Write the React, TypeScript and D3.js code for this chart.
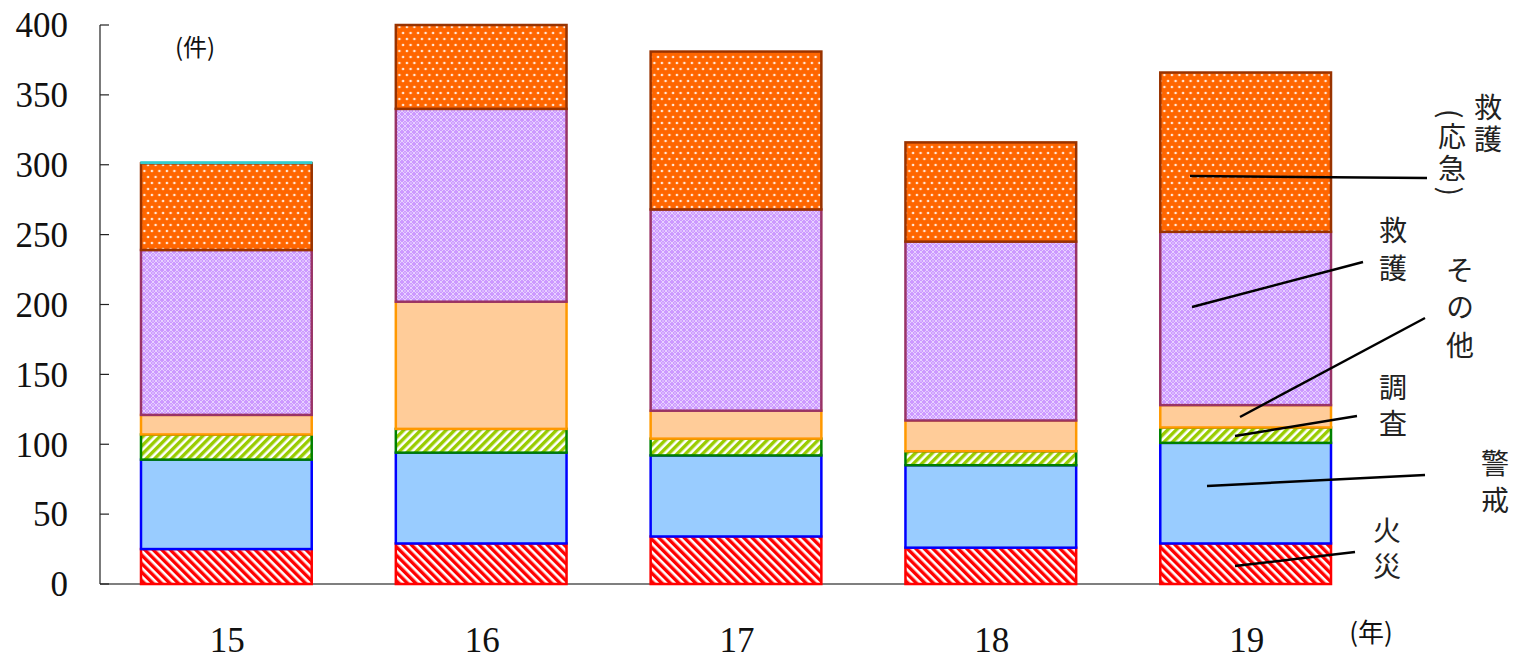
import React, { useEffect, useRef } from 'react';
import * as d3 from 'd3';

// years (平成)
const years = ['15', '16', '17', '18', '19'];

// 件数 per category, bottom to top
const kasai = [25, 29, 34, 26, 29];        // 火災
const keikai = [64, 65, 58, 59, 72];       // 警戒
const chousa = [18, 17, 12, 10, 11];       // 調査
const sonota = [14, 91, 20, 22, 16];       // その他
const kyugo = [118, 138, 144, 128, 124];   // 救護
const oukyu = [62, 60, 113, 71, 114];      // 救護（応急）
const extra = [1, 0, 0, 0, 0];

const yTicks = [0, 50, 100, 150, 200, 250, 300, 350, 400];

const series = [
  { key: 'kasai', values: kasai, fill: 'url(#p-red)', stroke: '#FF0000' },
  { key: 'keikai', values: keikai, fill: '#99CCFF', stroke: '#0000FF' },
  { key: 'chousa', values: chousa, fill: 'url(#p-green)', stroke: '#008000' },
  { key: 'sonota', values: sonota, fill: '#FFCC99', stroke: '#FF9900' },
  { key: 'kyugo', values: kyugo, fill: 'url(#p-lav)', stroke: '#993366' },
  { key: 'oukyu', values: oukyu, fill: 'url(#p-dots)', stroke: '#993300' },
  { key: 'extra', values: extra, fill: '#33CCCC', stroke: '#33CCCC' },
];

// annotation labels (vertical text) and leader lines
const labels = [
  { text: '救護', x: 1488, y: 93, ls: 4 },
  { text: '(応急)', x: 1452, y: 109, ls: 4 },
  { text: '救護', x: 1393, y: 216, ls: 10 },
  { text: 'その他', x: 1460, y: 256, ls: 9.5 },
  { text: '調査', x: 1393, y: 373, ls: 8 },
  { text: '警戒', x: 1495, y: 449, ls: 9 },
  { text: '火災', x: 1387, y: 516, ls: 8 },
];
const leaders = [
  [1190, 176, 1427, 178],
  [1192, 307, 1363, 262],
  [1240, 417, 1425, 318],
  [1235, 436, 1357, 416],
  [1207, 486, 1425, 475],
  [1235, 566, 1355, 552],
];

const W = 1519;
const H = 659;
const serif = '"Liberation Serif", "Times New Roman", serif';
const jp = '"Noto Sans CJK JP", sans-serif';

export default function App() {
  const svgRef = useRef<SVGSVGElement>(null);

  useEffect(() => {
    if (!svgRef.current) return;
    const svg = d3.select(svgRef.current);
    svg.selectAll('*').remove();

    const x = d3.scaleBand<string>().domain(years).range([141, 1331]).paddingInner(0.33).paddingOuter(0);
    const y = d3.scaleLinear().domain([0, 400]).range([584, 25]);

    const defs = svg.append('defs');

    // red diagonal stripes
    const pr = defs.append('pattern').attr('id', 'p-red').attr('patternUnits', 'userSpaceOnUse')
      .attr('width', 6).attr('height', 6).attr('patternTransform', 'rotate(-45)');
    pr.append('rect').attr('width', 6).attr('height', 6).attr('fill', '#fff');
    pr.append('rect').attr('width', 3.4).attr('height', 6).attr('fill', '#FF0000');

    // green diagonal stripes
    const pg = defs.append('pattern').attr('id', 'p-green').attr('patternUnits', 'userSpaceOnUse')
      .attr('width', 6).attr('height', 6).attr('patternTransform', 'rotate(45)');
    pg.append('rect').attr('width', 6).attr('height', 6).attr('fill', '#fff');
    pg.append('rect').attr('width', 3.4).attr('height', 6).attr('fill', '#99CC00');

    // lavender lattice
    const pl = defs.append('pattern').attr('id', 'p-lav').attr('patternUnits', 'userSpaceOnUse')
      .attr('width', 6).attr('height', 6);
    pl.append('rect').attr('width', 6).attr('height', 6).attr('fill', '#CC99FF');
    pl.append('path').attr('d', 'M0,3 L3,0 L6,3 L3,6 Z').attr('fill', 'none')
      .attr('stroke', '#fff').attr('stroke-opacity', 0.55).attr('stroke-width', 1);
    pl.append('circle').attr('cx', 3).attr('cy', 3).attr('r', 0.8).attr('fill', '#fff').attr('fill-opacity', 0.6);

    // orange dots
    const pd = defs.append('pattern').attr('id', 'p-dots').attr('patternUnits', 'userSpaceOnUse')
      .attr('width', 7.5).attr('height', 12);
    pd.append('rect').attr('width', 7.5).attr('height', 12).attr('fill', '#FF6600');
    pd.append('circle').attr('cx', 1.9).attr('cy', 3).attr('r', 1.3).attr('fill', '#fff').attr('fill-opacity', 0.85);
    pd.append('circle').attr('cx', 5.6).attr('cy', 9).attr('r', 1.3).attr('fill', '#fff').attr('fill-opacity', 0.85);

    // stacked data
    const rows = years.map((yr, i) => {
      const r: any = { year: yr };
      series.forEach(s => { r[s.key] = s.values[i]; });
      return r;
    });
    const stack = d3.stack<any>().keys(series.map(s => s.key))(rows);

    // baseline
    svg.append('line')
      .attr('x1', 100).attr('x2', 1313).attr('y1', y(0)).attr('y2', y(0))
      .attr('stroke', '#555').attr('stroke-width', 1.5);

    stack.forEach((layer, li) => {
      const s = series[li];
      svg.append('g').selectAll('rect')
        .data(layer.filter(d => d[1] - d[0] > 0))
        .join('rect')
        .attr('x', d => x(d.data.year)!)
        .attr('width', x.bandwidth())
        .attr('y', d => y(d[1]))
        .attr('height', d => Math.max(0.5, y(d[0]) - y(d[1])))
        .attr('fill', s.fill)
        .attr('stroke', s.stroke)
        .attr('stroke-width', s.key === 'extra' ? 1.5 : 2.5);
    });

    // y axis, ticks inward
    const yAxis = svg.append('g');
    yAxis.append('line')
      .attr('x1', 100).attr('x2', 100).attr('y1', y(400)).attr('y2', y(0))
      .attr('stroke', '#222').attr('stroke-width', 1.2);
    yAxis.selectAll('line.tick')
      .data(yTicks)
      .join('line')
      .attr('class', 'tick')
      .attr('x1', 100).attr('x2', 109)
      .attr('y1', d => y(d)).attr('y2', d => y(d))
      .attr('stroke', '#222').attr('stroke-width', 1.2);
    yAxis.selectAll('text')
      .data(yTicks)
      .join('text')
      .attr('x', 68).attr('y', d => y(d))
      .attr('dy', '0.35em')
      .attr('text-anchor', 'end')
      .attr('font-family', serif)
      .attr('font-size', 35)
      .attr('fill', '#111')
      .text(d => String(d));

    // x labels
    svg.append('g').selectAll('text')
      .data(years)
      .join('text')
      .attr('x', d => x(d)! + x.bandwidth() / 2 + 1)
      .attr('y', 652)
      .attr('text-anchor', 'middle')
      .attr('font-family', serif)
      .attr('font-size', 35)
      .attr('fill', '#111')
      .text(d => d);

    // unit labels
    svg.append('text').attr('x', 195).attr('y', 56).attr('text-anchor', 'middle')
      .attr('font-family', jp).attr('font-size', 24).attr('fill', '#111').text('(件)');
    svg.append('text').attr('x', 1371).attr('y', 642).attr('text-anchor', 'middle')
      .attr('font-family', jp).attr('font-size', 26).attr('fill', '#111').text('(年)');

    // leader lines
    svg.append('g').selectAll('line')
      .data(leaders)
      .join('line')
      .attr('x1', d => d[0]).attr('y1', d => d[1])
      .attr('x2', d => d[2]).attr('y2', d => d[3])
      .attr('stroke', '#000').attr('stroke-width', 2.5);

    // vertical labels
    svg.append('g').selectAll('text')
      .data(labels)
      .join('text')
      .attr('x', d => d.x)
      .attr('y', d => d.y)
      .style('writing-mode', 'vertical-rl')
      .attr('letter-spacing', d => d.ls)
      .attr('font-family', jp)
      .attr('font-size', 28)
      .attr('fill', '#222')
      .text(d => d.text);
  }, []);

  return (
    <svg
      ref={svgRef}
      width={W}
      height={H}
      style={{ position: 'absolute', left: 0, top: 0, background: '#fff' }}
    />
  );
}
